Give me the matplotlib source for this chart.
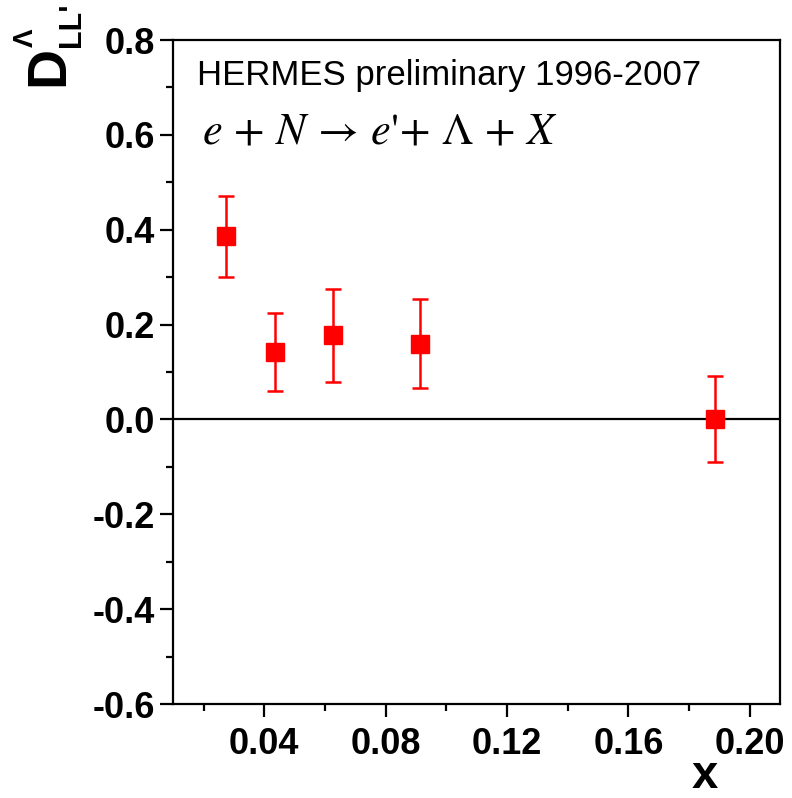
import numpy as np
import matplotlib
matplotlib.use("Agg")
import matplotlib.pyplot as plt

# data
x_vals = [0.0274, 0.0436, 0.0626, 0.0914, 0.1885]
d_vals = [0.386, 0.142, 0.177, 0.160, 0.001]
d_err = [0.085, 0.082, 0.099, 0.093, 0.091]

x_ticks = [0.04, 0.08, 0.12, 0.16, 0.20]
x_minor = [0.02, 0.06, 0.10, 0.14, 0.18]
y_ticks = [0.8, 0.6, 0.4, 0.2, 0.0, -0.2, -0.4, -0.6]
y_minor = [0.7, 0.5, 0.3, 0.1, -0.1, -0.3, -0.5]

plt.rcParams['font.family'] = ['Liberation Sans', 'DejaVu Sans']

W, H = 792, 798
fig = plt.figure(figsize=(W / 100, H / 100), dpi=100)
ax = fig.add_axes([173.3 / W, 1 - 704 / H, (780 - 173.3) / W, (704 - 40) / H])

ax.axhline(0, color='black', lw=1.6, zorder=1)
ax.errorbar(x_vals, d_vals, yerr=d_err, fmt='s', color='red', ms=12.5,
            elinewidth=1.8, capsize=5.5, capthick=1.8, zorder=3)

ax.set_xlim(0.01, 0.21)
ax.set_ylim(-0.6, 0.8)
ax.set_xticks(x_ticks)
ax.set_xticks(x_minor, minor=True)
ax.set_yticks(y_ticks)
ax.set_yticks(y_minor, minor=True)
ax.set_xticklabels([f"{v:.2f}" for v in x_ticks])
ax.set_yticklabels([f"{v:.1f}" for v in y_ticks])

for s in ax.spines.values():
    s.set_linewidth(1.6)
ax.tick_params(which='both', direction='out', width=1.6, top=False, right=False)
ax.tick_params(which='major', length=9.5)
ax.tick_params(which='minor', length=5)
ax.tick_params(axis='x', which='major', pad=7)
ax.tick_params(axis='y', which='major', pad=3.5)
for lab in ax.get_xticklabels() + ax.get_yticklabels():
    lab.set_fontsize(26)
    lab.set_fontweight('bold')

# axis titles
fig.text(705 / W, 1 - 776 / H, 'x', fontsize=34, fontweight='bold',
         ha='center', va='center')
# D^Lambda_LL' built from pieces, rotated
fig.text(63 / W, 1 - 86 / H, 'D', fontsize=40, fontweight='bold', rotation=90,
         rotation_mode='anchor', ha='left', va='baseline')
fig.text(33 / W, 1 - 47 / H, '\u039b', fontsize=20, fontweight='bold', rotation=90,
         rotation_mode='anchor', ha='left', va='baseline')
fig.text(80 / W, 1 - 47 / H, "LL'", fontsize=22, fontweight='bold', rotation=90,
         rotation_mode='anchor', ha='left', va='baseline')

ax.text(197 / W, 1 - 75 / H, 'HERMES preliminary 1996-2007', fontsize=25,
        transform=fig.transFigure, ha='left', va='center')
ax.text(202 / W, 1 - 132 / H,
        r"$e\,+\,N\,\rightarrow\,e\text{'}\!+\,\Lambda\,+\,X$", fontsize=32,
        math_fontfamily='stix', transform=fig.transFigure, ha='left', va='center')

fig.savefig('out.png', dpi=100)
